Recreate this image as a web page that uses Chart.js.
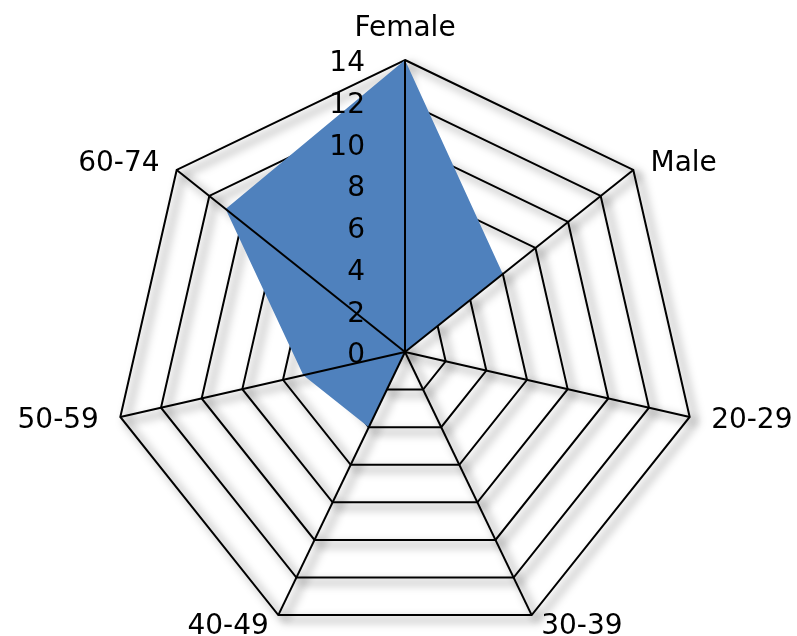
<!DOCTYPE html>
<html>
<head>
<meta charset="utf-8">
<script src="https://cdn.jsdelivr.net/npm/chart.js@4.4.1/dist/chart.umd.min.js"></script>
<style>
    html, body { margin: 0; padding: 0; background: #fff; overflow: hidden; }
    .wrap { width: 797px; height: 660px; position: relative; }
</style>
</head>
<body>
<div class="wrap"><canvas id="myChart"></canvas></div>
<script>
const categories = ['Female', 'Male', '20-29', '30-39', '40-49', '50-59', '60-74'];
const counts = [14, 6, 0, 0, 4, 5, 11];
const axisMin = 0, axisMax = 14, axisStep = 2;

const FONT = '28px "DejaVu Sans"';

const spoke = (ctx, r, i) => {
    const p = r.getPointPositionForValue(i, axisMax);
    ctx.beginPath();
    ctx.moveTo(r.xCenter, r.yCenter);
    ctx.lineTo(p.x, p.y);
    ctx.stroke();
};

// soft grey shadow under the web, drawn before the grid
const gridShadow = {
    id: 'gridShadow',
    beforeDraw(chart) {
        const r = chart.scales.r, ctx = chart.ctx;
        ctx.save();
        ctx.filter = 'blur(4px)';
        ctx.strokeStyle = 'rgba(0,0,0,0.22)';
        ctx.lineWidth = 6;
        ctx.translate(6, 5);
        r.ticks.forEach(t => {
            if (t.value === axisMin) return;
            ctx.beginPath();
            categories.forEach((c, i) => {
                const p = r.getPointPositionForValue(i, t.value);
                i ? ctx.lineTo(p.x, p.y) : ctx.moveTo(p.x, p.y);
            });
            ctx.closePath();
            ctx.stroke();
        });
        categories.forEach((c, i) => spoke(ctx, r, i));
        ctx.restore();
    }
};

// spokes, tick numbers and category names on top of the fill
const overlay = {
    id: 'overlay',
    afterDatasetsDraw(chart) {
        const r = chart.scales.r, ctx = chart.ctx;
        ctx.save();
        ctx.strokeStyle = '#000';
        ctx.lineWidth = 2;
        categories.forEach((c, i) => spoke(ctx, r, i));

        ctx.font = FONT;
        ctx.fillStyle = '#000';
        ctx.textAlign = 'right';
        ctx.textBaseline = 'middle';
        r.ticks.forEach(t => {
            ctx.fillText(t.label, r.xCenter - 40, r.yCenter - r.getDistanceFromCenterForValue(t.value) + 4);
        });

        categories.forEach((c, i) => {
            const p = r.getPointPositionForValue(i, axisMax);
            const a = p.angle + Math.PI / 2;
            if (i === 0) {
                ctx.textAlign = 'center';
                ctx.textBaseline = 'bottom';
                ctx.fillText(c, p.x, p.y - 17);
                return;
            }
            ctx.textAlign = p.x > r.xCenter ? 'left' : 'right';
            ctx.textBaseline = 'middle';
            ctx.fillText(c, p.x + Math.sin(a) * 22, p.y - Math.cos(a) * 12 + 1);
        });
        ctx.restore();
    }
};

const ctx1 = document.getElementById('myChart').getContext('2d');
const myChart = new Chart(ctx1, {
    type: 'radar',
    data: {
        labels: categories,
        datasets: [{
            data: counts,
            backgroundColor: '#4F81BD',
            borderWidth: 0,
            pointRadius: 0,
            fill: true
        }]
    },
    options: {
        responsive: true,
        maintainAspectRatio: false,
        animation: false,
        layout: { padding: { top: 60, bottom: 16, left: 113, right: 100 } },
        plugins: {
            legend: { display: false },
            tooltip: { enabled: false }
        },
        scales: {
            r: {
                min: axisMin,
                max: axisMax,
                ticks: { stepSize: axisStep, display: false },
                grid: { color: '#000', lineWidth: 2 },
                angleLines: { display: false },
                pointLabels: { display: false }
            }
        }
    },
    plugins: [gridShadow, overlay]
});
</script>
</body>
</html>
